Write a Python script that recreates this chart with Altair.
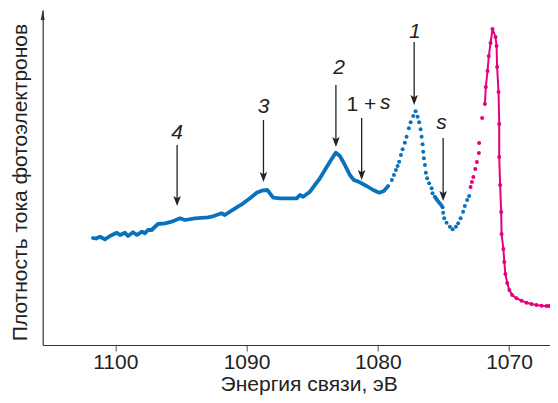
import altair as alt
import pandas as pd

# ---------------- data ----------------
# dense (line-like) part of the blue spectrum: binding energy (eV), intensity (a.u.)
blue_line_ev = [1101.70, 1101.47, 1101.17, 1100.79, 1100.40, 1099.89, 1099.64, 1099.26,
                1099.03, 1098.65, 1098.35, 1097.97, 1097.74, 1097.51, 1097.23, 1096.75,
                1096.21, 1095.70, 1095.07, 1094.69, 1093.93, 1092.94, 1092.66, 1091.90,
                1091.65, 1091.26, 1090.75, 1090.25, 1089.74, 1089.23, 1088.85, 1088.42,
                1088.22, 1087.97, 1087.46, 1086.18, 1085.93, 1085.68, 1085.17, 1084.79,
                1084.41, 1084.03, 1083.65, 1083.40, 1083.19, 1082.89, 1082.64, 1082.38,
                1082.13, 1081.82, 1081.37, 1080.85, 1080.35, 1079.89, 1079.54, 1079.21]
blue_line_int = [107, 106.5, 108.3, 105.7, 109, 112.3, 110, 112.3,
                 109, 112.7, 110, 113.3, 111.7, 115, 115, 121,
                 121.7, 123.3, 126.7, 125, 126.7, 127.7, 128.3, 131.7,
                 130, 133.3, 137.7, 141.7, 146.7, 152.3, 154.3, 155,
                 151.7, 147.3, 146.7, 146.7, 150, 148.3, 153.3, 160,
                 166.7, 175, 183.3, 188.3, 192.3, 189, 183.3, 176.7,
                 170, 165, 162.7, 159, 155, 152.3, 154, 159]

# sparse (dotted) part of the blue spectrum
blue_dot_ev = [1078.93, 1078.77, 1078.62, 1078.49, 1078.37, 1078.24, 1078.11, 1077.94,
               1077.81, 1077.63, 1077.50, 1077.30, 1077.12, 1076.97, 1076.85, 1076.74,
               1076.66, 1076.59, 1076.54, 1076.49, 1076.41, 1076.34, 1076.24, 1076.09,
               1075.90, 1075.83, 1075.65, 1075.56, 1075.48, 1075.38, 1075.27, 1075.16,
               1075.06, 1075.02, 1074.94, 1074.76, 1074.51, 1074.30, 1074.05, 1073.88,
               1073.69, 1073.50, 1073.37, 1073.19, 1073.04]
blue_dot_int = [165, 170, 175, 179, 183.3, 190, 195.7, 202.3,
                208.3, 216.7, 222.7, 229, 233.7, 228.3, 222.7, 215.7,
                208.3, 200.7, 193.3, 186.7, 180, 172.3, 166.7, 161.7,
                156.7, 151.7, 148.3, 146.5, 145, 143.3, 141.7, 139.7,
                137.7, 132.3, 126.7, 122.3, 118.3, 115.7, 118.3, 121.7,
                126.7, 133.3, 139, 145, 149]

# magenta spectrum: free dots on the rising edge
pink_free_ev = [1072.93, 1072.83, 1072.72, 1072.57, 1072.45, 1072.30, 1072.28, 1072.05]
pink_free_int = [158, 163, 168, 176, 183, 192, 202, 227]

# magenta spectrum: connected dots
pink_line_ev = [1071.84, 1071.77, 1071.64, 1071.54, 1071.41, 1071.26, 1071.03, 1070.95,
                1070.91, 1070.80, 1070.75, 1070.75, 1070.68, 1070.60, 1070.57, 1070.43,
                1070.36, 1070.28, 1070.14, 1069.98, 1069.76, 1069.43, 1069.05, 1068.67,
                1068.29, 1067.91, 1067.52, 1067.14, 1066.95]
pink_line_int = [241, 258, 274, 289, 302, 316, 308, 299,
                 278, 253, 221, 188, 160, 133, 111, 96,
                 83, 71, 62, 55, 50, 46.7, 44.3, 42.3,
                 41, 40, 39.3, 39, 39]

# annotation arrows
arrow_ev = [1095.29, 1088.71, 1083.19, 1081.23, 1077.23, 1075.02]
arrow_top = [200, 225, 260, 227, 303, 207]
arrow_tip = [139, 163, 198, 165, 240, 144]

# italic annotation labels
lab_text = ["4", "3", "2", "1", "s"]
lab_ev = [1095.29, 1088.71, 1082.94, 1077.17, 1075.14]
lab_int = [212, 238, 277, 313, 222]

# "1 + s" label, split into upright and italic parts
mix_up_text = ["1 +"]
mix_up_ev = [1082.38]
mix_up_int = [240]
mix_it_text = ["s"]
mix_it_ev = [1079.84]
mix_it_int = [242]

x_ticks = [1100, 1090, 1080, 1070]
X_DOMAIN = [1066.88, 1105.53]
Y_DOMAIN = [0, 335]

BLUE = "#0a72bd"
PINK = "#e5007e"
AX = "#333333"
FONT = "Liberation Sans"
FS = 21

# ---------------- chart ----------------
xs = alt.Scale(domain=X_DOMAIN, reverse=True, nice=False, zero=False)
ys = alt.Scale(domain=Y_DOMAIN, nice=False, zero=True)

X = alt.X("e:Q", scale=xs, axis=alt.Axis(
    title="Энергия связи, эВ", values=x_ticks, format="d", grid=False,
    domainColor=AX, domainWidth=1.2, tickColor="#555555", tickSize=6, tickWidth=1,
    labelFont=FONT, labelFontSize=FS, labelColor="#222222", labelBaseline="alphabetic",
    labelPadding=17, titleFont=FONT, titleFontSize=FS, titleFontWeight="normal",
    titleColor="#222222", titleX=266, titleY=45, titleBaseline="alphabetic"))
Y = alt.Y("v:Q", scale=ys, axis=alt.Axis(
    title="Плотность тока фотоэлектронов", labels=False, ticks=False, grid=False,
    domainColor=AX, domainWidth=1.2, titleFont=FONT, titleFontSize=FS,
    titleFontWeight="normal", titleColor="#222222", titleX=-16, titleY=172,
    titleBaseline="alphabetic", titleAlign="center", titleAngle=270))

Xn = alt.X("e:Q", scale=xs)
Yn = alt.Y("v:Q", scale=ys)

df_bl = pd.DataFrame({"e": blue_line_ev, "v": blue_line_int})
df_bd = pd.DataFrame({"e": blue_dot_ev, "v": blue_dot_int})
df_pf = pd.DataFrame({"e": pink_free_ev, "v": pink_free_int})
df_pl = pd.DataFrame({"e": pink_line_ev, "v": pink_line_int})

base_line = alt.Chart(df_bl).mark_line(color=BLUE, strokeWidth=3.8, strokeCap="round",
                                       strokeJoin="round").encode(x=X, y=Y)
blue_dots = alt.Chart(df_bd).mark_circle(color=BLUE, size=16, opacity=1).encode(x=Xn, y=Yn)
pink_free = alt.Chart(df_pf).mark_circle(color=PINK, size=16, opacity=1).encode(x=Xn, y=Yn)
pink_ln = alt.Chart(df_pl).mark_line(color=PINK, strokeWidth=2).encode(x=Xn, y=Yn)
pink_pts = alt.Chart(df_pl).mark_circle(color=PINK, size=16, opacity=1).encode(x=Xn, y=Yn)

df_ar = pd.DataFrame({"e": arrow_ev, "top": arrow_top, "tip": arrow_tip})
df_ar["shaft_end"] = df_ar["tip"] + 4
df_ar["head"] = df_ar["tip"] + 5
shafts = alt.Chart(df_ar).mark_rule(color="#222222", strokeWidth=1.3).encode(
    x=Xn, y=alt.Y("top:Q", scale=ys), y2="shaft_end:Q")
heads = alt.Chart(df_ar).mark_point(
    shape="M0,1L0.75,-1L0,-0.55L-0.75,-1Z", filled=True, size=100,
    color="#222222", opacity=1, strokeWidth=0).encode(x=Xn, y=alt.Y("head:Q", scale=ys))

df_lab = pd.DataFrame({"e": lab_ev, "v": lab_int, "t": lab_text})
labels = alt.Chart(df_lab).mark_text(font=FONT, fontSize=FS, fontStyle="italic",
                                     color="#222222", align="center", baseline="middle"
                                     ).encode(x=Xn, y=Yn, text="t:N")
df_mu = pd.DataFrame({"e": mix_up_ev, "v": mix_up_int, "t": mix_up_text})
mix_up = alt.Chart(df_mu).mark_text(font=FONT, fontSize=FS, color="#222222",
                                    align="left", baseline="middle").encode(x=Xn, y=Yn, text="t:N")
df_mi = pd.DataFrame({"e": mix_it_ev, "v": mix_it_int, "t": mix_it_text})
mix_it = alt.Chart(df_mi).mark_text(font=FONT, fontSize=FS, fontStyle="italic", color="#222222",
                                    align="left", baseline="middle").encode(x=Xn, y=Yn, text="t:N")

# arrowhead on the y axis
yarrow = alt.Chart(pd.DataFrame({"a": [0]})).mark_point(
    shape="M0,-1L0.4,1L-0.4,1Z", filled=True, size=100, color=AX, opacity=1, strokeWidth=0
).encode(x=alt.value(0), y=alt.value(5))

chart = alt.layer(base_line, blue_dots, pink_free, pink_ln, pink_pts,
                  shafts, heads, labels, mix_up, mix_it, yarrow).properties(
    width=507.3, height=335,
    autosize=alt.AutoSizeParams(type="none"),
    padding={"left": 34.7, "top": 2, "right": 0, "bottom": 50},
).configure_view(strokeWidth=0)

chart.save("out.html", embed_options={"renderer": "svg", "actions": False})
